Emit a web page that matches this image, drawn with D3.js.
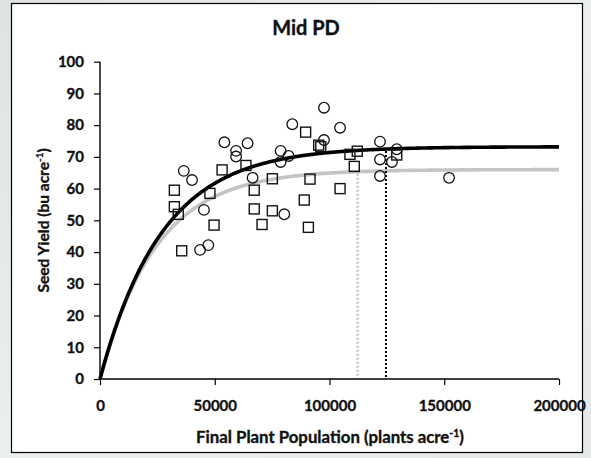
<!DOCTYPE html>
<html>
<head>
<meta charset="utf-8">
<script src="https://cdn.jsdelivr.net/npm/d3@7"></script>
<style>
  html, body { margin: 0; padding: 0; }
  body { width: 591px; height: 458px; overflow: hidden; }
  svg { display: block; }
  text { font-family: Lato, "Open Sans", sans-serif; font-weight: bold; fill: #111;
         stroke: #111; stroke-width: 0.35px; paint-order: stroke; }
</style>
</head>
<body>
<svg id="chart" width="591" height="458"></svg>
<script>
// Observed yield, circle-marker plots (plants/acre, bu/acre)
const circlePop = [83800, 54200, 64300, 59300, 59300, 78700, 82200, 78700, 36500, 40100,
                   66500, 45300, 80300, 47200, 43600, 97600, 104600, 97600, 122000, 129300,
                   122000, 127200, 122000, 152100];
const circleYield = [80.3, 74.6, 74.3, 71.9, 70.1, 71.9, 70.3, 68.4, 65.6, 62.7,
                     63.4, 53.3, 51.9, 42.2, 40.7, 85.5, 79.2, 75.3, 74.8, 72.4,
                     69.2, 68.4, 64.0, 63.4];

// Observed yield, square-marker plots
const squarePop = [89600, 63600, 53200, 75100, 91500, 32400, 47900, 67200, 89000, 32400,
                   34100, 67200, 75100, 49700, 70600, 90800, 35600, 95300, 96200, 112100,
                   108900, 129300, 110800, 104600];
const squareYield = [77.8, 67.3, 65.9, 63.1, 63.0, 59.5, 58.5, 59.5, 56.4, 54.3,
                     51.9, 53.6, 53.0, 48.5, 48.7, 47.8, 40.4, 73.7, 73.2, 71.8,
                     70.8, 70.6, 67.0, 60.0];

// Fitted response curves: yield = asymptote * (1 - exp(-rate * population))
const fitNames = ["gray", "black"];
const fitAsymptote = [66.0, 73.2];
const fitRate = [4.104e-5, 3.696e-5];
// Population where each fit reaches its plateau (dotted markers)
const fitOptimum = [112200, 124600];

const xTicks = [0, 50000, 100000, 150000, 200000];
const yTicks = [0, 10, 20, 30, 40, 50, 60, 70, 80, 90, 100];

const svg = d3.select("#chart");
const W = 591, H = 458;

// page backdrop with soft grey tone
const defs = svg.append("defs");
const grad = defs.append("linearGradient").attr("id", "bg").attr("x1", 0).attr("y1", 0).attr("x2", 1).attr("y2", 1);
grad.append("stop").attr("offset", "0").attr("stop-color", "#dfe3e3");
grad.append("stop").attr("offset", "0.5").attr("stop-color", "#eceff0");
grad.append("stop").attr("offset", "1").attr("stop-color", "#e4e8e8");
svg.append("rect").attr("width", W).attr("height", H).attr("fill", "url(#bg)");

// chart frame
svg.append("rect")
  .attr("x", 11.5).attr("y", 3.5).attr("width", 571).attr("height", 449)
  .attr("fill", "#fff").attr("stroke", "#000").attr("stroke-width", 1.2);

const x = d3.scaleLinear().domain([0, 200000]).range([100, 559]);
const y = d3.scaleLinear().domain([0, 100]).range([379, 61.7]);

// axes
const xAxis = svg.append("g").attr("transform", `translate(0,${y(0)})`)
  .call(d3.axisBottom(x).tickValues(xTicks).tickFormat(d3.format("d")).tickSize(6).tickPadding(15));
const yAxis = svg.append("g").attr("transform", `translate(${x(0)},0)`)
  .call(d3.axisLeft(y).tickValues(yTicks).tickSize(6).tickPadding(10));
[xAxis, yAxis].forEach(g => {
  g.select(".domain").attr("stroke", "#000").attr("stroke-width", 1.4);
  g.selectAll(".tick line").attr("stroke", "#000").attr("stroke-width", 1.2);
  g.selectAll(".tick text").attr("font-size", 15).attr("font-family", null)
    .attr("font-weight", null).attr("fill", null);
});
// d3 axis domain includes outer ticks; redraw plain lines
xAxis.select(".domain").attr("d", `M${x(0)},0H${x(200000)}`);
yAxis.select(".domain").attr("d", `M0,${y(0)}V${y(100)}`);

// fitted curves
const popGrid = d3.range(0, 200001, 500);
const line = d3.line().x(d => x(d[0])).y(d => y(d[1])).curve(d3.curveLinear);
const fitColor = ["#c4c4c4", "#000"];
fitNames.forEach((name, i) => {
  const pts = popGrid.map(p => [p, fitAsymptote[i] * (1 - Math.exp(-fitRate[i] * p))]);
  svg.append("path").datum(pts)
    .attr("d", line).attr("fill", "none")
    .attr("stroke", fitColor[i]).attr("stroke-width", 3.6)
    .attr("stroke-linejoin", "round");
});

// dotted drop lines at the plateau populations
const dropColor = ["#b8b8b8", "#000"];
fitNames.forEach((name, i) => {
  const p = fitOptimum[i];
  const yv = fitAsymptote[i] * (1 - Math.exp(-fitRate[i] * p));
  svg.append("line")
    .attr("x1", x(p)).attr("x2", x(p))
    .attr("y1", y(yv) + 2).attr("y2", y(0) - 1)
    .attr("stroke", dropColor[i]).attr("stroke-width", 2)
    .attr("stroke-dasharray", "2,2");
});

// markers
const circles = circlePop.map((p, i) => ({ p, v: circleYield[i] }));
const squares = squarePop.map((p, i) => ({ p, v: squareYield[i] }));
svg.append("g").selectAll("rect").data(squares).join("rect")
  .attr("x", d => x(d.p) - 5).attr("y", d => y(d.v) - 5)
  .attr("width", 10).attr("height", 10)
  .attr("fill", "none").attr("stroke", "#111").attr("stroke-width", 1.4);
svg.append("g").selectAll("circle").data(circles).join("circle")
  .attr("cx", d => x(d.p)).attr("cy", d => y(d.v)).attr("r", 5.3)
  .attr("fill", "none").attr("stroke", "#111").attr("stroke-width", 1.3);

// titles
svg.append("text").attr("x", 306).attr("y", 35).attr("text-anchor", "middle")
  .attr("font-size", 20).text("Mid PD");

const xt = svg.append("text").attr("x", 330).attr("y", 443).attr("text-anchor", "middle")
  .attr("font-size", 16.8);
xt.append("tspan").text("Final Plant Population (plants acre");
xt.append("tspan").attr("font-size", 10.5).attr("dy", -6).text("-1");
xt.append("tspan").attr("dy", 6).text(")");

const yt = svg.append("text").attr("transform", `translate(49,${y(50)}) rotate(-90)`)
  .attr("text-anchor", "middle").attr("font-size", 15.5);
yt.append("tspan").text("Seed Yield (bu acre");
yt.append("tspan").attr("font-size", 10).attr("dy", -6).text("-1");
yt.append("tspan").attr("dy", 6).text(")");
</script>
</body>
</html>
